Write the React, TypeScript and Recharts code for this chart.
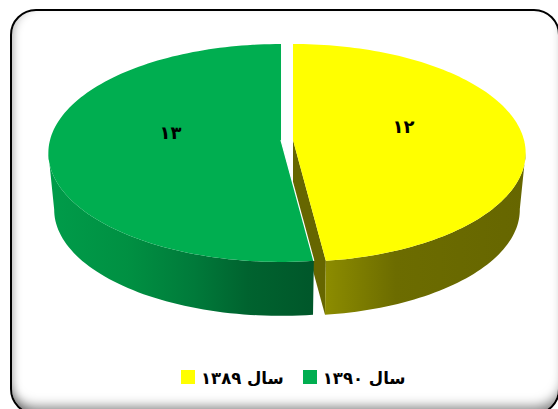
import React from 'react';
import { PieChart, Pie, Cell, Legend } from 'recharts';

const seriesNames = ['سال ۱۳۸۹', 'سال ۱۳۹۰'];
const seriesValues = [12, 13];
const valueLabels = ['۱۲', '۱۳'];

const topColors = ['#FFFF00', '#00AE50'];
const wallStops: [number, string][][] = [
  [[0, '#8C8C00'], [0.35, '#6c6c00'], [1, '#666600']],
  [[0, '#009C4A'], [0.3, '#009042'], [0.55, '#007A3A'], [0.75, '#00632F'], [1, '#00572A']],
];
const cutColor = '#666600';

const tableData = seriesNames.map((name, i) => ({ name, value: seriesValues[i], label: valueLabels[i] }));

const WIDTH = 558;
const HEIGHT = 409;
const TILT = 0.465;
const PERSP = 0.119;
const EXPLODE = 6;
const DEPTH = 57;
const BOTTOM_SCALE = 0.975;
const FONT = '"DejaVu Serif", "DejaVu Sans", serif';

function project(cx: number, cy: number, R: number, tDeg: number, plane: number) {
  const t = (tDeg * Math.PI) / 180;
  const Z = -Math.cos(t);
  const p = 1 / (1 - PERSP * Z);
  const s = plane ? BOTTOM_SCALE : 1;
  const y0 = plane ? cy + DEPTH : cy;
  return [cx + s * R * Math.sin(t) * p, y0 + s * R * TILT * Z * p];
}

function arcPoints(cx: number, cy: number, R: number, t0: number, t1: number, plane: number) {
  const pts: number[][] = [];
  const n = 120;
  for (let i = 0; i <= n; i++) pts.push(project(cx, cy, R, t0 + ((t1 - t0) * i) / n, plane));
  return pts;
}

const toPath = (pts: number[][]) =>
  'M' + pts.map((p) => `${p[0].toFixed(2)},${p[1].toFixed(2)}`).join('L') + 'Z';

function extremeIndex(pts: number[][], sign: number) {
  let best = 0;
  pts.forEach((p, k) => {
    if (sign * p[0] > sign * pts[best][0]) best = k;
  });
  return best;
}

function Slice3D(props: any) {
  const { cx, cy, outerRadius, startAngle, endAngle, midAngle, fill, index } = props;
  const i = index ?? topColors.indexOf(fill);
  const mid = ((midAngle ?? (startAngle + endAngle) / 2) * Math.PI) / 180;
  const x = cx + EXPLODE * Math.cos(mid);
  const t0 = 90 - startAngle;
  const t1 = 90 - endAngle;
  const top = arcPoints(x, cy, outerRadius, t0, t1, 0);
  const bot = arcPoints(x, cy, outerRadius, t0, t1, 1);
  const apexTop = [x, cy];
  const apexBot = [x, cy + DEPTH];
  const gid = `wall-${i}`;
  const xs = bot.map((p) => p[0]).concat(top.map((p) => p[0]));
  const minX = Math.min(...xs);
  const maxX = Math.max(...xs);
  const right = i === 0;
  const edgeTop = right ? top[top.length - 1] : top[0];
  const edgeBot = right ? bot[bot.length - 1] : bot[0];
  // visible outer wall: from the widest point of the slice round to its front edge
  const sign = right ? 1 : -1;
  const kTop = extremeIndex(top, sign);
  const kBot = extremeIndex(bot, sign);
  const frontTop = right ? top.slice(kTop) : top.slice(0, kTop + 1);
  const frontBot = right ? bot.slice(kBot) : bot.slice(0, kBot + 1);
  return (
    <g>
      <defs>
        <linearGradient id={gid} gradientUnits="userSpaceOnUse" x1={right ? edgeTop[0] : minX} x2={maxX} y1={0} y2={0}>
          {wallStops[i].map(([o, c]) => (
            <stop key={o} offset={o} stopColor={c} />
          ))}
        </linearGradient>
      </defs>
      {i === 0 && <path d={toPath([apexTop, edgeTop, edgeBot, apexBot])} fill={cutColor} />}
      <path d={toPath([...frontTop, ...frontBot.slice().reverse()])} fill={`url(#${gid})`} />
      <path d={toPath([apexTop, ...top])} fill={fill} />
      {i === 1 && (
        <line x1={apexTop[0]} y1={apexTop[1]} x2={edgeTop[0]} y2={edgeTop[1]} stroke="#fff" strokeWidth={1.2} />
      )}
    </g>
  );
}

function renderLabel(props: any) {
  const { cx, cy, outerRadius, midAngle, payload } = props;
  const m = (midAngle * Math.PI) / 180;
  const x = cx + outerRadius * 0.505 * Math.cos(m);
  const y = cy - 4 - 40 * Math.sin(m);
  return (
    <text x={x} y={y} textAnchor="middle" fontFamily={FONT} fontWeight={700} fontSize={18} fill="#000">
      {payload.label}
    </text>
  );
}

function LegendContent({ payload }: any) {
  return (
    <div style={{ display: 'flex', gap: 19, alignItems: 'center' }}>
      {(payload || []).map((e: any) => (
        <div key={e.value} style={{ display: 'flex', alignItems: 'center', gap: 6 }}>
          <span style={{ width: 14, height: 14, background: e.color, display: 'inline-block' }} />
          <span style={{ fontFamily: FONT, fontWeight: 700, fontSize: 16.5, color: '#000', direction: 'rtl', whiteSpace: 'nowrap', position: 'relative', top: 2 }}>
            {e.value}
          </span>
        </div>
      ))}
    </div>
  );
}

export default function App() {
  return (
    <div style={{ position: 'absolute', left: 0, top: 0, width: WIDTH, height: HEIGHT, overflow: 'hidden', background: '#fff' }}>
      <div
        style={{
          position: 'absolute',
          left: 10,
          top: 9,
          width: 546,
          height: 402,
          border: '2px solid #000',
          borderRadius: 26,
          background: '#fff',
          boxShadow: 'inset 7px 0 8px -5px rgba(0,0,0,0.22), inset 0 -12px 12px -6px rgba(0,0,0,0.5)',
        }}
      />
      <div style={{ position: 'absolute', left: 0, top: 0 }}>
        <PieChart width={WIDTH} height={HEIGHT} margin={{ top: 0, right: 0, bottom: 0, left: 0 }}>
          <Pie
            data={tableData}
            dataKey="value"
            nameKey="name"
            cx={287}
            cy={140}
            innerRadius={0}
            outerRadius={231}
            startAngle={90}
            endAngle={-270}
            stroke="none"
            isAnimationActive={false}
            shape={Slice3D}
            label={renderLabel}
            labelLine={false}
          >
            {tableData.map((d, i) => (
              <Cell key={d.name} fill={topColors[i]} />
            ))}
          </Pie>
          <Legend content={LegendContent} wrapperStyle={{ left: 181, top: 367, width: 260, bottom: 'auto' }} />
        </PieChart>
      </div>
    </div>
  );
}
